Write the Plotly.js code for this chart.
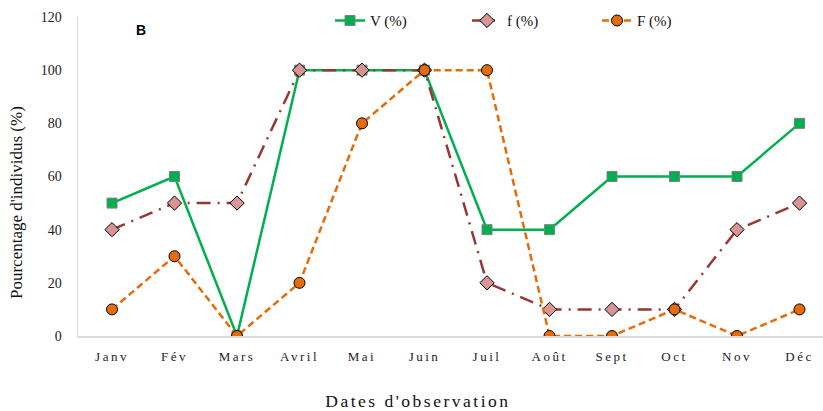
<!DOCTYPE html>
<html><head><meta charset="utf-8">
<script src="https://cdn.plot.ly/plotly-3.0.1.min.js"></script>
<style>
html,body{margin:0;padding:0;background:#fff;overflow:hidden}
.xtick text{letter-spacing:2.5px}
</style></head><body>
<div id="chart" style="width:823px;height:411px"></div>
<script>
const months = ["Janv","Fév","Mars","Avril","Mai","Juin","Juil","Août","Sept","Oct","Nov","Déc"];
const V = [50,60,0,100,100,100,40,40,60,60,60,80];
const f = [40,50,50,100,100,100,20,10,10,10,40,50];
const F = [10,30,0,20,80,100,100,0,0,10,0,10];
const yTicks = [0,20,40,60,80,100,120];

const traces = [
  {x: months, y: V, name: "V (%)", mode: "lines+markers", type: "scatter", legend: "legend",
   line: {color: "#00B050", width: 2.5},
   marker: {symbol: "square", size: 10, color: "#00B050", line: {color: "#808080", width: 1}}},
  {x: months, y: f, name: "f (%)", mode: "lines+markers", type: "scatter", legend: "legend2",
   line: {color: "#953735", width: 2.5, dash: "14px,7px,2px,7px"},
   marker: {symbol: "diamond", size: 11, color: "#D99594", line: {color: "#000", width: 1}}},
  {x: months, y: F, name: "F (%)", mode: "lines+markers", type: "scatter", legend: "legend3",
   line: {color: "#E46C0A", width: 2.5, dash: "7px,4px"},
   marker: {symbol: "circle", size: 11, color: "#E46C0A", line: {color: "#000", width: 1}}}
];

const L = 78, T = 17, B = 75, W = 823, H = 411;
const plotW = W - L, plotH = H - T - B;
const px = v => (v - L) / plotW;
const py = v => (H - B - v) / plotH;
const legFont = {size: 15, family: "Liberation Serif, serif", color: "#111"};
const mkLeg = xp => ({orientation: "h", x: px(xp), xanchor: "left", y: 1.04, yanchor: "top",
                      font: legFont, bgcolor: "rgba(0,0,0,0)"});

const layout = {
  width: W, height: H,
  margin: {l: L, r: 0, t: T, b: B},
  paper_bgcolor: "#fff", plot_bgcolor: "#fff",
  font: {family: "Liberation Serif, Times New Roman, serif", color: "#222"},
  showlegend: true,
  legend: mkLeg(330), legend2: mkLeg(467), legend3: mkLeg(597),
  xaxis: {type: "category", range: [-0.544, 11.376], showline: true, linecolor: "#d9d9d9", linewidth: 1.5,
          showgrid: false, zeroline: false, ticks: "", ticklabelstandoff: 8,
          tickfont: {size: 13, family: "Liberation Serif, serif", color: "#222"}},
  yaxis: {range: [0, 120], tickvals: yTicks, showline: true, linecolor: "#d9d9d9", linewidth: 1.5,
          showgrid: false, zeroline: false, ticks: "", ticklabelstandoff: 12,
          tickfont: {size: 14, family: "Liberation Serif, serif", color: "#222"}},
  annotations: [
    {text: "<b>B</b>", x: px(141), xref: "paper", y: py(30), yref: "paper", showarrow: false,
     xanchor: "center", yanchor: "middle",
     font: {size: 14, family: "Liberation Sans, Arial, sans-serif", color: "#000"}},
    {text: "Dates d'observation", x: px(418), xref: "paper", y: py(401), yref: "paper", showarrow: false,
     xanchor: "center", yanchor: "middle",
     font: {size: 17.5, family: "Liberation Serif, serif", color: "#111"}},
    {text: "Pourcentage d'individus (%)", x: px(17), xref: "paper", y: py(203), yref: "paper", showarrow: false,
     xanchor: "center", yanchor: "middle", textangle: -90,
     font: {size: 17, family: "Liberation Serif, serif", color: "#111"}}
  ]
};

Plotly.newPlot("chart", traces, layout, {displayModeBar: false, staticPlot: true}).then(() => {
  const anns = document.querySelectorAll(".annotation-text");
  anns.forEach(t => { if (t.textContent.indexOf("Dates") === 0) t.style.letterSpacing = "2.5px"; });
});
</script></body></html>
